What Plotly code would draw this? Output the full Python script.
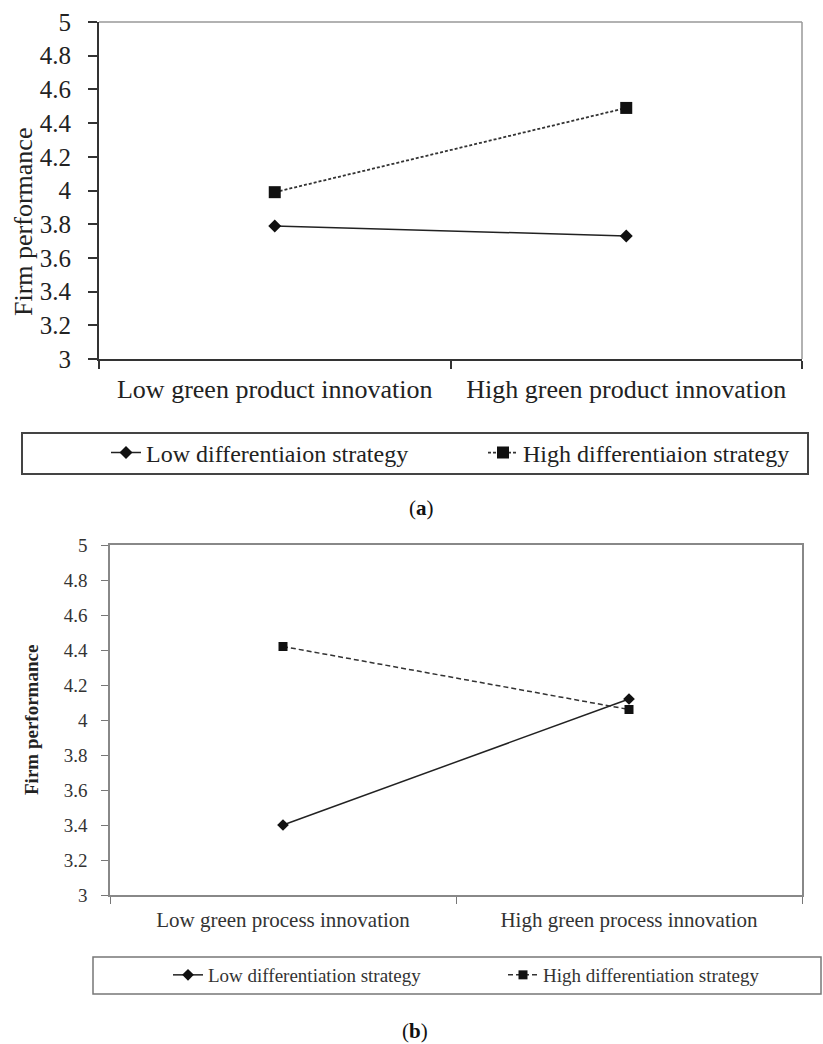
import plotly.graph_objects as go

W, H = 823, 1044

# ---- data (a) ----
cats_a = ["Low green product innovation", "High green product innovation"]
a_low = [3.79, 3.73]
a_high = [3.99, 4.49]
names_a = ["Low differentiaion strategy", "High differentiaion strategy"]

# ---- data (b) ----
cats_b = ["Low green process innovation", "High green process innovation"]
b_low = [3.40, 4.12]
b_high = [4.42, 4.06]
names_b = ["Low differentiation strategy", "High differentiation strategy"]

y_ticks = [3, 3.2, 3.4, 3.6, 3.8, 4, 4.2, 4.4, 4.6, 4.8, 5]
y_ticktext = ["3", "3.2", "3.4", "3.6", "3.8", "4", "4.2", "4.4", "4.6", "4.8", "5"]

SERIF = "Tinos, Liberation Serif, Times New Roman, serif"

def px_x(v):
    return v / W

def px_y(v):
    return 1 - v / H

fig = go.Figure()

# chart (a)
fig.add_trace(go.Scatter(x=cats_a, y=a_low, name=names_a[0], mode="lines+markers",
                         line=dict(color="#222", width=1.5),
                         marker=dict(symbol="diamond", size=10, color="#111"),
                         xaxis="x", yaxis="y", legend="legend"))
fig.add_trace(go.Scatter(x=cats_a, y=a_high, name=names_a[1], mode="lines+markers",
                         line=dict(color="#333", width=1.8, dash="3px,2px"),
                         marker=dict(symbol="square", size=12, color="#111"),
                         xaxis="x", yaxis="y", legend="legend2"))

# chart (b)
fig.add_trace(go.Scatter(x=cats_b, y=b_low, name=names_b[0], mode="lines+markers",
                         line=dict(color="#222", width=1.5),
                         marker=dict(symbol="diamond", size=9, color="#111"),
                         xaxis="x2", yaxis="y2", legend="legend3"))
fig.add_trace(go.Scatter(x=cats_b, y=b_high, name=names_b[1], mode="lines+markers",
                         line=dict(color="#333", width=1.5, dash="5px,3px"),
                         marker=dict(symbol="square", size=9, color="#111"),
                         xaxis="x2", yaxis="y2", legend="legend4"))

def leg(xpx, ypx, size, color):
    return dict(orientation="h", x=px_x(xpx), xanchor="left", y=px_y(ypx), yanchor="middle",
                font=dict(size=size, color=color, family=SERIF),
                bgcolor="rgba(0,0,0,0)", borderwidth=0)

fig.update_layout(
    template="none",
    width=W, height=H,
    margin=dict(l=0, r=0, t=0, b=0, pad=0),
    paper_bgcolor="white", plot_bgcolor="white",
    font=dict(family=SERIF, color="#222"),
    xaxis=dict(domain=[px_x(99), px_x(802)], anchor="y", type="category", automargin=False,
               range=[-0.5, 1.5], tickson="boundaries", ticks="outside", ticklen=8,
               tickcolor="#333", tickwidth=1.5, showline=True, linecolor="#333", linewidth=2,
               showgrid=False, zeroline=False,
               tickfont=dict(size=26, color="#222", family=SERIF), ticklabelstandoff=6),
    yaxis=dict(domain=[px_y(359), px_y(22)], anchor="x", range=[3, 5], automargin=False,
               tickvals=y_ticks, ticktext=y_ticktext, ticks="outside", ticklen=9,
               tickcolor="#333", tickwidth=1.5, showline=True, linecolor="#333", linewidth=2,
               showgrid=False, zeroline=False,
               tickfont=dict(size=25, color="#222", family=SERIF), ticklabelstandoff=12),
    xaxis2=dict(domain=[px_x(110), px_x(802)], anchor="y2", type="category", automargin=False,
                range=[-0.5, 1.5], tickson="boundaries", ticks="outside", ticklen=7,
                tickcolor="#777", tickwidth=1.2, showline=True, linecolor="#888", linewidth=1.5,
                mirror=True, showgrid=False, zeroline=False,
                tickfont=dict(size=21, color="#333", family=SERIF), ticklabelstandoff=5),
    yaxis2=dict(domain=[px_y(895), px_y(545)], anchor="x2", range=[3, 5], automargin=False,
                tickvals=y_ticks, ticktext=y_ticktext, ticks="outside", ticklen=7,
                tickcolor="#777", tickwidth=1.2, showline=True, linecolor="#888", linewidth=1.5,
                mirror=True, showgrid=False, zeroline=False,
                tickfont=dict(size=19, color="#333", family=SERIF), ticklabelstandoff=10),
    legend=leg(106, 453, 24, "#222"),
    legend2=leg(483, 453, 24, "#222"),
    legend3=leg(168, 975, 19, "#333"),
    legend4=leg(503, 975, 19, "#333"),
    showlegend=True,
)

# frame lines (a): top and right in light gray
fig.add_shape(type="line", xref="x domain", yref="y domain", x0=0, x1=1, y0=1, y1=1,
              line=dict(color="#999", width=1.5))
fig.add_shape(type="line", xref="x domain", yref="y domain", x0=1, x1=1, y0=0, y1=1,
              line=dict(color="#999", width=1.5))

# legend boxes
fig.add_shape(type="rect", xref="paper", yref="paper",
              x0=px_x(22), x1=px_x(808), y0=px_y(474), y1=px_y(433),
              line=dict(color="#444", width=2), fillcolor="rgba(0,0,0,0)", layer="below")
fig.add_shape(type="rect", xref="paper", yref="paper",
              x0=px_x(93), x1=px_x(821), y0=px_y(994), y1=px_y(957),
              line=dict(color="#777", width=1.5), fillcolor="rgba(0,0,0,0)", layer="below")

# axis titles and panel captions
fig.add_annotation(text="Firm performance", xref="paper", yref="paper",
                   x=px_x(23), y=px_y(222), textangle=-90, showarrow=False,
                   font=dict(size=26, color="#222", family=SERIF), xanchor="center", yanchor="middle")
fig.add_annotation(text="<b>Firm performance</b>", xref="paper", yref="paper",
                   x=px_x(31), y=px_y(720), textangle=-90, showarrow=False,
                   font=dict(size=19, color="#222", family=SERIF), xanchor="center", yanchor="middle")
fig.add_annotation(text="(<b>a</b>)", xref="paper", yref="paper",
                   x=px_x(421), y=px_y(508), showarrow=False,
                   font=dict(size=21, color="#111", family=SERIF), xanchor="center", yanchor="middle")
fig.add_annotation(text="(<b>b</b>)", xref="paper", yref="paper",
                   x=px_x(415), y=px_y(1031), showarrow=False,
                   font=dict(size=21, color="#111", family=SERIF), xanchor="center", yanchor="middle")

fig.write_html("out.html", config={"displayModeBar": False},
               post_script="document.body.style.margin='0';document.body.style.overflow='hidden';")
